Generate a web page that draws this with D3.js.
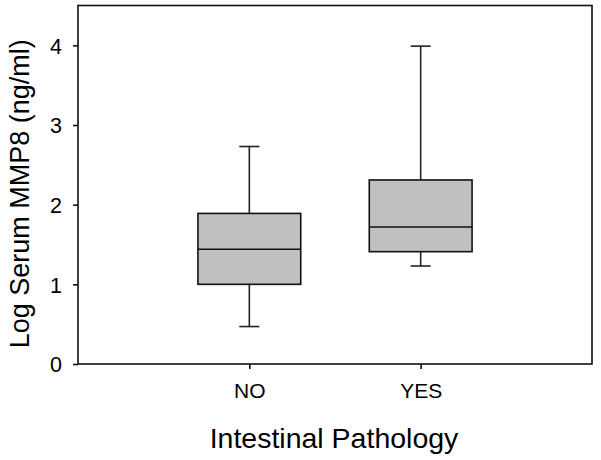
<!DOCTYPE html>
<html>
<head>
<meta charset="utf-8">
<script src="https://cdn.jsdelivr.net/npm/d3@7"></script>
<style>
  html, body { margin: 0; padding: 0; background: #fff; }
  svg { display: block; }
  text { font-family: "Liberation Sans", Arial, sans-serif; fill: #000; }
</style>
</head>
<body>
<svg id="chart" width="601" height="460"></svg>
<script>
// ---- data ----
const categories = ["NO", "YES"];
const whiskerLow  = [0.47, 1.23];
const q1          = [1.00, 1.41];
const median      = [1.44, 1.72];
const q3          = [1.89, 2.31];
const whiskerHigh = [2.73, 3.99];
const yTicks = [0, 1, 2, 3, 4];
const xTitle = "Intestinal Pathology";
const yTitle = "Log Serum MMP8 (ng/ml)";

(function () {
// ---- layout ----
const svg = d3.select("#chart");
const mLeft = 78, mRight = 592, mTop = 5.5, mBottom = 364;

const x = d3.scaleLinear().domain([0, categories.length + 1]).range([mLeft, mRight]);
const y = d3.scaleLinear().domain([0, 4.5]).range([mBottom, mTop]);

const boxW = 0.6, capW = 0.117;

const data = categories.map((c, i) => ({
  c, pos: i + 1, lo: whiskerLow[i], q1: q1[i], med: median[i], q3: q3[i], hi: whiskerHigh[i]
}));

// frame
svg.append("rect")
  .attr("x", mLeft).attr("y", mTop)
  .attr("width", mRight - mLeft).attr("height", mBottom - mTop)
  .attr("fill", "none").attr("stroke", "#111").attr("stroke-width", 1.6);

// axes
const yAxis = d3.axisLeft(y).tickValues(yTicks).tickSize(5).tickPadding(11).tickFormat(d3.format("d"));
const gy = svg.append("g").attr("transform", `translate(${mLeft},0)`).call(yAxis);
gy.select(".domain").remove();
gy.selectAll("line").attr("stroke", "#111").attr("stroke-width", 1.6);
gy.selectAll("text").style("font-size", "21.5px").attr("dy", "0.36em");

const xAxis = d3.axisBottom(x).tickValues(data.map(d => d.pos))
  .tickFormat((d, i) => categories[i]).tickSize(5).tickPadding(14);
const gx = svg.append("g").attr("transform", `translate(0,${mBottom})`).call(xAxis);
gx.select(".domain").remove();
gx.selectAll("line").attr("stroke", "#111").attr("stroke-width", 1.6);
gx.selectAll("text").style("font-size", "21px");

// boxes
const boxes = svg.append("g").selectAll("g.box").data(data).join("g").attr("class", "box");

// whiskers
boxes.append("line")
  .attr("x1", d => x(d.pos)).attr("x2", d => x(d.pos))
  .attr("y1", d => y(d.q3)).attr("y2", d => y(d.hi))
  .attr("stroke", "#222").attr("stroke-width", 1.6);
boxes.append("line")
  .attr("x1", d => x(d.pos)).attr("x2", d => x(d.pos))
  .attr("y1", d => y(d.q1)).attr("y2", d => y(d.lo))
  .attr("stroke", "#222").attr("stroke-width", 1.6);
// caps
boxes.append("line")
  .attr("x1", d => x(d.pos - capW / 2)).attr("x2", d => x(d.pos + capW / 2))
  .attr("y1", d => y(d.hi)).attr("y2", d => y(d.hi))
  .attr("stroke", "#222").attr("stroke-width", 1.6);
boxes.append("line")
  .attr("x1", d => x(d.pos - capW / 2)).attr("x2", d => x(d.pos + capW / 2))
  .attr("y1", d => y(d.lo)).attr("y2", d => y(d.lo))
  .attr("stroke", "#222").attr("stroke-width", 1.6);
// box
boxes.append("rect")
  .attr("x", d => x(d.pos - boxW / 2))
  .attr("width", d => x(d.pos + boxW / 2) - x(d.pos - boxW / 2))
  .attr("y", d => y(d.q3))
  .attr("height", d => y(d.q1) - y(d.q3))
  .attr("fill", "#c0c0c0").attr("stroke", "#111").attr("stroke-width", 1.6);
// median
boxes.append("line")
  .attr("x1", d => x(d.pos - boxW / 2)).attr("x2", d => x(d.pos + boxW / 2))
  .attr("y1", d => y(d.med)).attr("y2", d => y(d.med))
  .attr("stroke", "#111").attr("stroke-width", 1.6);

// titles
svg.append("text")
  .attr("x", (mLeft + mRight) / 2 - 1).attr("y", 448)
  .attr("text-anchor", "middle")
  .style("font-size", "28.5px")
  .text(xTitle);

svg.append("text")
  .attr("transform", `translate(29,${(mTop + mBottom) / 2 + 9}) rotate(-90)`)
  .attr("text-anchor", "middle")
  .style("font-size", "27px")
  .text(yTitle);
})();
</script>
</body>
</html>
